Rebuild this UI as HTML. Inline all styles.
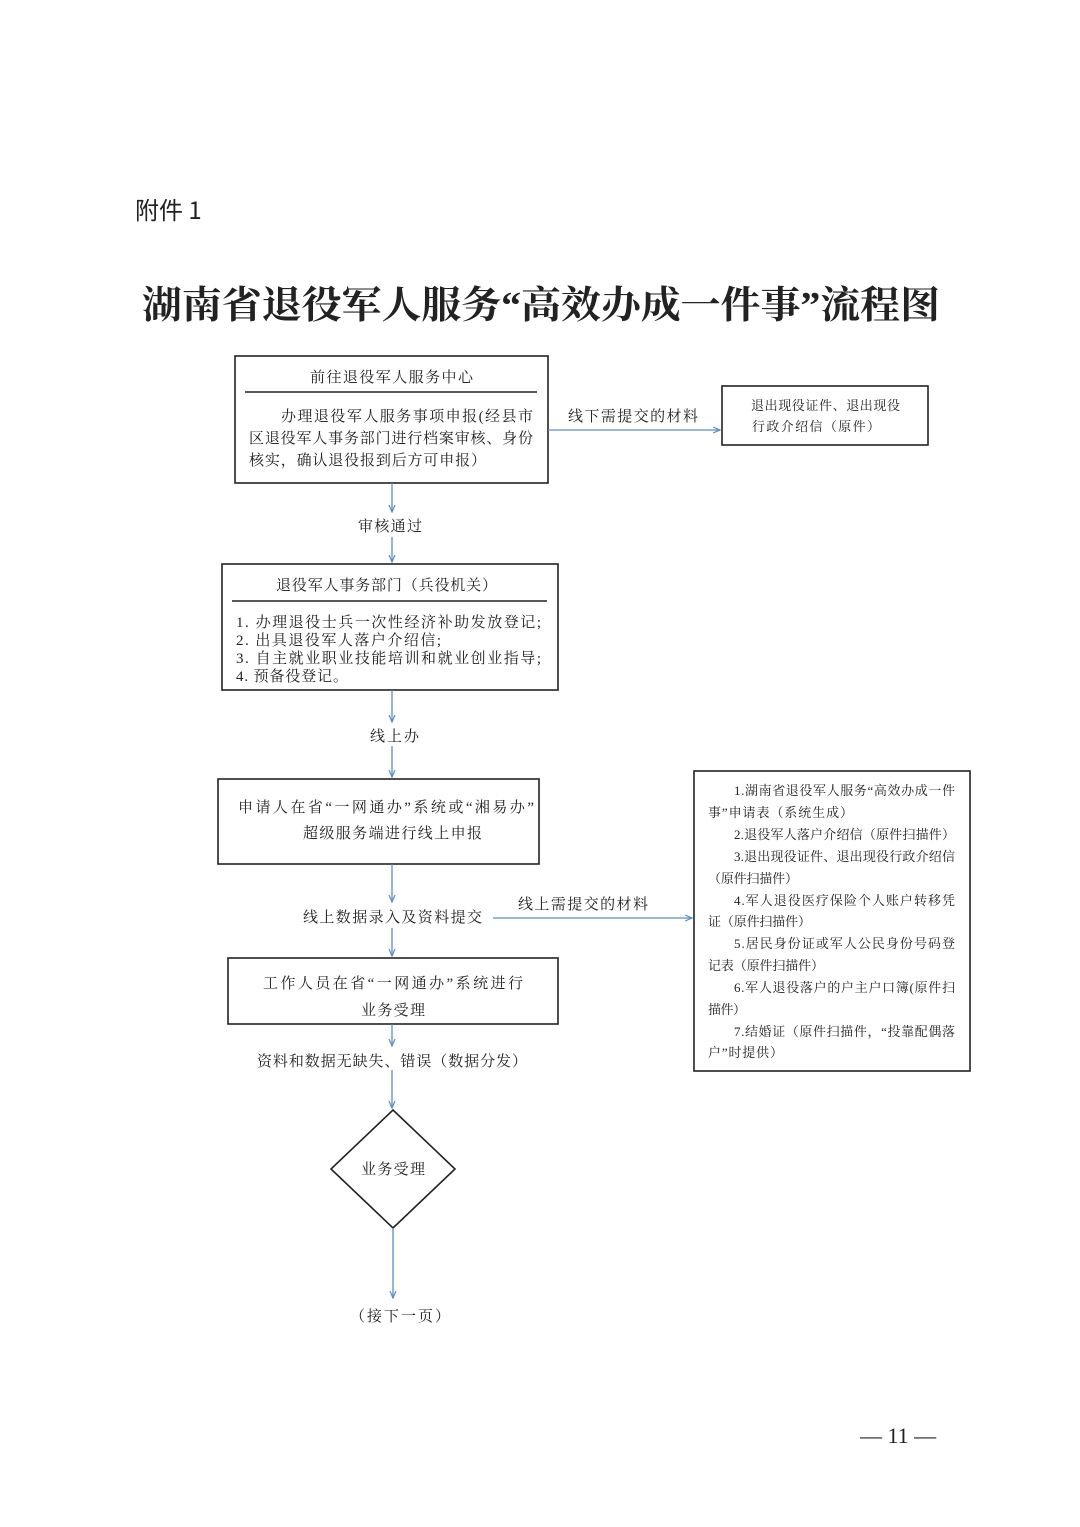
<!DOCTYPE html>
<html><head><meta charset="utf-8"><style>
html,body{margin:0;padding:0;background:#fff}
svg{display:block}
text{font-family:"Liberation Serif","Noto Serif CJK SC",serif;fill:#222}
</style></head><body>
<svg width="1080" height="1527" viewBox="0 0 1080 1527" xmlns="http://www.w3.org/2000/svg">
<defs><marker id="a" markerWidth="8" markerHeight="8" refX="7" refY="4" orient="auto" markerUnits="userSpaceOnUse"><path d="M0,1 L7,4 L0,7" fill="none" stroke="#5b8ec4" stroke-width="1.2"/></marker></defs>
<text x="135" y="219" font-size="24" style="font-family:'Noto Sans CJK SC',sans-serif">附件 1</text>
<text x="142" y="318" font-size="38" font-weight="bold" textLength="798" lengthAdjust="spacingAndGlyphs">湖南省退役军人服务“高效办成一件事”流程图</text>
<g fill="none" stroke="#222" stroke-width="1.6">
<rect x="235" y="356" width="313" height="127"/>
<line x1="245" y1="392" x2="537" y2="392"/>
<rect x="722" y="386" width="206" height="59"/>
<rect x="222" y="564" width="336" height="126"/>
<line x1="232" y1="601" x2="547" y2="601"/>
<rect x="218" y="779" width="321" height="85"/>
<rect x="694" y="771" width="276" height="300"/>
<rect x="228" y="958" width="330" height="66"/>
<polygon points="393,1110 455,1169 393,1228 331,1169"/>
</g>
<g stroke="#5b8ec4" stroke-width="1.3" fill="none" marker-end="url(#a)">
<line x1="548" y1="430" x2="720" y2="430"/>
<line x1="392" y1="483" x2="392" y2="512"/>
<line x1="392" y1="537" x2="392" y2="562"/>
<line x1="392" y1="690" x2="392" y2="722"/>
<line x1="392" y1="746" x2="392" y2="777"/>
<line x1="392" y1="864" x2="392" y2="902"/>
<line x1="392" y1="928" x2="392" y2="956"/>
<line x1="493" y1="918" x2="692" y2="918"/>
<line x1="392" y1="1024" x2="392" y2="1046"/>
<line x1="392" y1="1070" x2="392" y2="1108"/>
<line x1="393" y1="1228" x2="393" y2="1298"/>
</g>
<g font-size="15" lengthAdjust="spacingAndGlyphs">
<text x="310" y="382" textLength="163">前往退役军人服务中心</text>
<text x="281" y="421" textLength="252">办理退役军人服务事项申报(经县市</text>
<text x="249" y="443" textLength="284">区退役军人事务部门进行档案审核、身份</text>
<text x="249" y="465" textLength="237">核实，确认退役报到后方可申报）</text>
<text x="568" y="421" textLength="130">线下需提交的材料</text>
<text x="358" y="531" textLength="64">审核通过</text>
<text x="276" y="590" textLength="221">退役军人事务部门（兵役机关）</text>
<text x="236" y="627" textLength="305">1. 办理退役士兵一次性经济补助发放登记;</text>
<text x="236" y="645" textLength="205">2. 出具退役军人落户介绍信;</text>
<text x="236" y="663" textLength="305">3. 自主就业职业技能培训和就业创业指导;</text>
<text x="236" y="681" textLength="112">4. 预备役登记。</text>
<text x="370" y="741" textLength="49">线上办</text>
<text x="238" y="812" textLength="296">申请人在省“一网通办”系统或“湘易办”</text>
<text x="303" y="838" textLength="179">超级服务端进行线上申报</text>
<text x="303" y="922" textLength="179">线上数据录入及资料提交</text>
<text x="518" y="909" textLength="130">线上需提交的材料</text>
<text x="263" y="988" textLength="260">工作人员在省“一网通办”系统进行</text>
<text x="361" y="1015" textLength="64">业务受理</text>
<text x="257" y="1066" textLength="270">资料和数据无缺失、错误（数据分发）</text>
<text x="361" y="1174" textLength="64">业务受理</text>
<text x="350" y="1321" textLength="100">（接下一页）</text>
</g>
<g font-size="13" lengthAdjust="spacingAndGlyphs">
<text x="751" y="410" textLength="149">退出现役证件、退出现役</text>
<text x="752" y="431" textLength="128">行政介绍信（原件）</text>
<text x="734" y="795" textLength="221">1.湖南省退役军人服务“高效办成一件</text>
<text x="708" y="817" textLength="145">事”申请表（系统生成）</text>
<text x="734" y="839" textLength="221">2.退役军人落户介绍信（原件扫描件）</text>
<text x="734" y="861" textLength="221">3.退出现役证件、退出现役行政介绍信</text>
<text x="708" y="883" textLength="90">（原件扫描件）</text>
<text x="734" y="905" textLength="221">4.军人退役医疗保险个人账户转移凭</text>
<text x="708" y="926" textLength="103">证（原件扫描件）</text>
<text x="734" y="948" textLength="221">5.居民身份证或军人公民身份号码登</text>
<text x="708" y="970" textLength="116">记表（原件扫描件）</text>
<text x="734" y="992" textLength="221">6.军人退役落户的户主户口簿(原件扫</text>
<text x="708" y="1014" textLength="38">描件）</text>
<text x="734" y="1036" textLength="221">7.结婚证（原件扫描件，“投靠配偶落</text>
<text x="708" y="1057" textLength="75">户”时提供）</text>
</g>
<text x="860" y="1443" font-size="22">— 11 —</text>
</svg>
</body></html>
